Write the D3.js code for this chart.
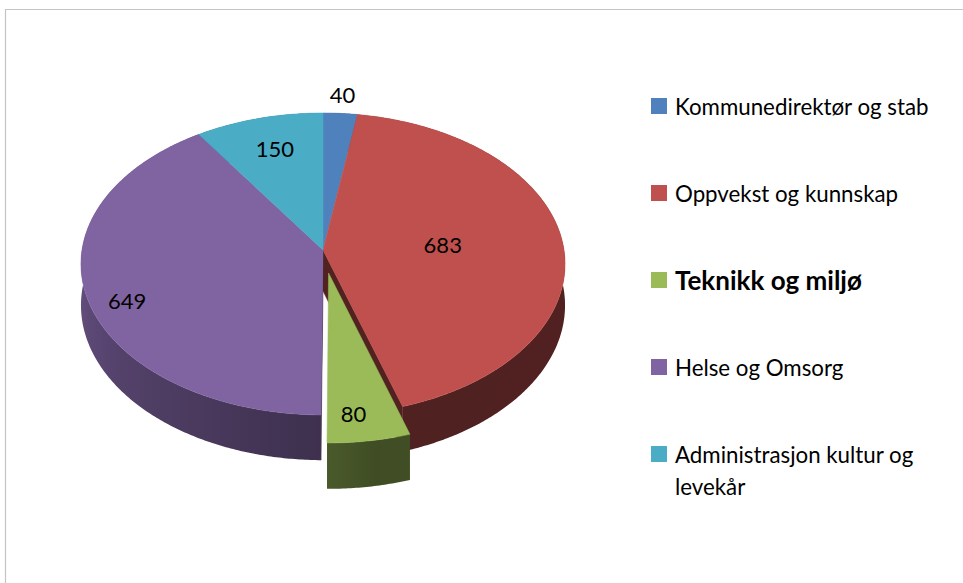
<!DOCTYPE html>
<html><head><meta charset="utf-8">
<script src="https://cdn.jsdelivr.net/npm/d3@7"></script>
<style>html,body{margin:0;padding:0;background:#fff;}svg{display:block;}</style>
</head><body>
<svg id="chart" width="963" height="583"></svg>
<script>
// ---- data ----
const categories = ["Kommunedirektør og stab","Oppvekst og kunnskap","Teknikk og miljø","Helse og Omsorg","Administrasjon kultur og levekår"];
const values = [40, 683, 80, 649, 150];
const colors = ["#4f81bd","#c0504d","#9bbb59","#8064a2","#4bacc6"];
const exploded = [false, false, true, false, false];

// ---- layout (not data): label placement as [radius fraction, angle shift in degrees] ----
const labelPlace = [[1.15, 0], [0.5, 0], [0.848, 2.3], [0.854, -6], [0.757, 0.5]];
const W = 963, H = 583;
const cx = 323, cy = 250, rx = 241, ry = 149.7, persp = 0.0926, depth = 41, explodeDist = 0.153;
const font = "Lato, 'Open Sans', sans-serif";

const svg = d3.select("#chart");
const defs = svg.append("defs");
svg.append("path").attr("d", `M5.5,${H} V9.5 H${W}`).attr("fill","none").attr("stroke","#c4c4c4").attr("stroke-width",1.2);

function P(u, v, z){ const g = 1/(1 - persp*v); return [cx + rx*u*g, cy + ry*v*g + z*depth*g]; }

const arcs = d3.pie().sort(null).value(d => d)(values);
arcs.forEach((a,i) => {
  const mid = (a.startAngle + a.endAngle)/2;
  a.ou = exploded[i] ? explodeDist*Math.sin(mid) : 0;
  a.ov = exploded[i] ? -explodeDist*Math.cos(mid) : 0;
  a.i = i;
});
function pt(a, ang, r, z){ return P(a.ou + r*Math.sin(ang), a.ov - r*Math.cos(ang), z); }
function arcPts(a, a0, a1, z){
  const n = Math.max(2, Math.ceil(Math.abs(a1-a0)/0.01));
  return d3.range(n+1).map(k => pt(a, a0 + (a1-a0)*k/n, 1, z));
}
const line = d3.line();
// wall shading as a function of angle (degrees)
const shade = d3.scaleLinear().domain([0,90,170,180,230,270,300,360]).range([0.5,0.42,0.41,0.48,0.65,0.8,0.78,0.5]);
function dark(c, f){ return d3.interpolateRgb("#000", c)(f); }

function drawWalls(g, a){
  // visible front range of the wall: x monotonic there
  const lo = Math.max(a.startAngle, 95*Math.PI/180), hi = Math.min(a.endAngle, 265*Math.PI/180);
  const id = "wallgrad" + a.i;
  const grad = defs.append("linearGradient").attr("id", id).attr("gradientUnits","userSpaceOnUse");
  if (hi > lo){
    const xa = pt(a, hi, 1, 0)[0], xb = pt(a, lo, 1, 0)[0];
    grad.attr("x1", xa).attr("x2", xb).attr("y1", 0).attr("y2", 0);
    d3.range(21).forEach(k => {
      const t = hi - (hi-lo)*k/20;
      const x = pt(a, t, 1, 0)[0];
      grad.append("stop").attr("offset", (x - xa)/(xb - xa || 1))
        .attr("stop-color", dark(colors[a.i], shade(t*180/Math.PI)));
    });
  } else {
    const c = dark(colors[a.i], shade((a.startAngle+a.endAngle)/2*180/Math.PI));
    grad.append("stop").attr("offset",0).attr("stop-color",c);
    grad.append("stop").attr("offset",1).attr("stop-color",c);
  }
  const top = arcPts(a, a.startAngle, a.endAngle, 0), bot = arcPts(a, a.endAngle, a.startAngle, 1);
  g.append("path").attr("d", line(top.concat(bot)) + "Z").attr("fill", `url(#${id})`);
}
function area(pts){ let s=0; for(let k=0;k<pts.length;k++){const p=pts[k],q=pts[(k+1)%pts.length]; s+=p[0]*q[1]-q[0]*p[1];} return s; }
function drawFace(g, a, ang, isEnd){
  const pts = [pt(a,ang,0,0), pt(a,ang,1,0), pt(a,ang,1,1), pt(a,ang,0,1)];
  const s = area(pts);
  if ((isEnd && s > 0) || (!isEnd && s < 0)){
    g.append("path").attr("d", line(pts)+"Z").attr("fill", dark(colors[a.i], 0.42)).attr("stroke", dark(colors[a.i], 0.42)).attr("stroke-width",0.5);
  }
}
function drawTop(g, a){
  const pts = [pt(a, 0, 0, 0)].concat(arcPts(a, a.startAngle, a.endAngle, 0));
  g.append("path").attr("d", line(pts)+"Z").attr("fill", colors[a.i]).attr("stroke", colors[a.i]).attr("stroke-width", 0.5).attr("stroke-linejoin","round");
}

const n = arcs.length;
const gPie = svg.append("g");
function render(list){
  list.forEach(a => drawWalls(gPie, a));
  list.forEach(a => {
    const prev = arcs[(a.i - 1 + n) % n], next = arcs[(a.i + 1) % n];
    if (exploded[a.i] || exploded[prev.i]) drawFace(gPie, a, a.startAngle, false);
    if (exploded[a.i] || exploded[next.i]) drawFace(gPie, a, a.endAngle, true);
  });
  list.forEach(a => drawTop(gPie, a));
}
render(arcs.filter(a => !exploded[a.i]));
render(arcs.filter(a => exploded[a.i]));

// data labels
arcs.forEach(a => {
  const mid = (a.startAngle + a.endAngle)/2 + labelPlace[a.i][1]*Math.PI/180;
  const p = pt(a, mid, labelPlace[a.i][0], 0);
  svg.append("text").attr("x", p[0]).attr("y", p[1]).attr("text-anchor","middle").attr("dominant-baseline","central")
    .attr("font-family", font).attr("font-size", 22).attr("fill","#000").text(d3.format("d")(values[a.i]));
});

// legend
const lg = svg.append("g");
const legendTop = 106, legendStep = 87, maxW = 282;
categories.forEach((c, i) => {
  const y = legendTop + i*legendStep;
  lg.append("rect").attr("x", 651).attr("y", y - 8).attr("width", 16).attr("height", 16).attr("fill", colors[i]);
  const bold = exploded[i];
  const t = lg.append("text").attr("x", 675).attr("y", y).attr("dominant-baseline","central")
    .attr("font-family", font).attr("font-size", bold ? 26 : 22.3).attr("font-weight", bold ? "bold" : "normal").attr("fill","#000");
  const words = c.split(" ");
  let lineWords = [];
  let ts = t.append("tspan").attr("x", 675).attr("dy", 0);
  words.forEach(w => {
    lineWords.push(w);
    ts.text(lineWords.join(" "));
    if (ts.node().getComputedTextLength() > maxW && lineWords.length > 1){
      lineWords.pop(); ts.text(lineWords.join(" "));
      lineWords = [w];
      ts = t.append("tspan").attr("x", 675).attr("dy", 32).text(w);
    }
  });
});
</script>
</body></html>
